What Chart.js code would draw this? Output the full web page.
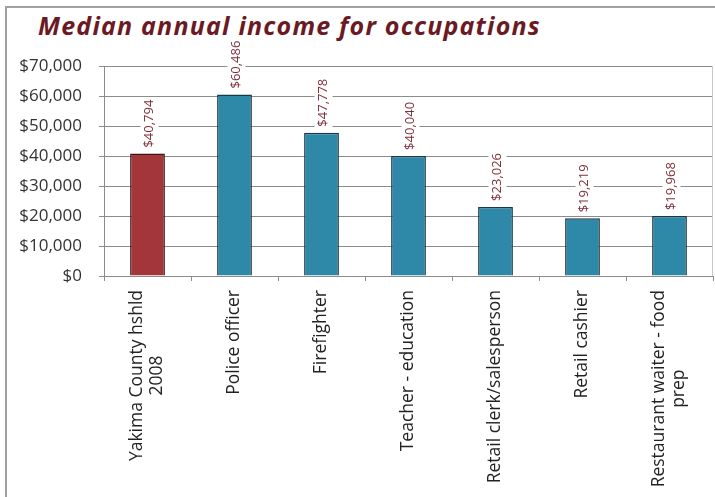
<!DOCTYPE html>
<html>
<head>
<meta charset="utf-8">
<script src="https://cdn.jsdelivr.net/npm/chart.js@4/dist/chart.umd.min.js"></script>
<style>
  html, body { margin: 0; padding: 0; background: #fff; }
  #wrap { position: relative; width: 715px; height: 497px; overflow: hidden; }
  #frame { position: absolute; left: 5px; top: 6px; width: 720px; height: 500px;
           border-left: 2px solid #a0a0a0; border-top: 2px solid #a0a0a0; }
  #title { position: absolute; left: 38px; top: 8px; margin: 0; letter-spacing: 1.2px;
           font: italic bold 25px "Open Sans", sans-serif; color: #6b1a24; white-space: nowrap; }
  canvas { position: absolute; left: 0; top: 0; }
</style>
</head>
<body>
<div id="wrap">
  <div id="frame"></div>
  <h1 id="title">Median annual income for occupations</h1>
  <canvas id="incomeChart" width="715" height="497"></canvas>
</div>
<script>
const occupations = [
  ['Yakima County hshld', '2008'],
  'Police officer',
  'Firefighter',
  'Teacher - education',
  'Retail clerk/salesperson',
  'Retail cashier',
  ['Restaurant waiter - food', 'prep']
];
const medianIncome = [40794, 60486, 47778, 40040, 23026, 19219, 19968];
const barColors = ['#a3363a', '#2e88a8', '#2e88a8', '#2e88a8', '#2e88a8', '#2e88a8', '#2e88a8'];
const barBorders = ['#3e1515', '#173a4a', '#173a4a', '#173a4a', '#173a4a', '#173a4a', '#173a4a'];
const yTicks = [0, 10000, 20000, 30000, 40000, 50000, 60000, 70000];

const money = v => '$' + v.toLocaleString('en-US');
const FONT = '"Open Sans", sans-serif';

// value labels, rotated, on a white box that cuts the gridlines
const valueLabels = {
  id: 'valueLabels',
  afterDatasetsDraw(chart) {
    const ctx = chart.ctx;
    const meta = chart.getDatasetMeta(0);
    ctx.save();
    ctx.font = '13px ' + FONT;
    meta.data.forEach((bar, i) => {
      const txt = money(medianIncome[i]);
      const w = ctx.measureText(txt).width;
      ctx.save();
      ctx.translate(bar.x + 2, bar.y - 6);
      ctx.rotate(-Math.PI / 2);
      ctx.fillStyle = '#fff';
      ctx.fillRect(-1, -9, w + 3, 18);
      ctx.fillStyle = '#7d2f3a';
      ctx.textAlign = 'left';
      ctx.textBaseline = 'middle';
      ctx.fillText(txt, 0, 0);
      ctx.restore();
    });
    ctx.restore();
  }
};

// category names, rotated, lines centred on each other
const categoryLabels = {
  id: 'categoryLabels',
  afterDraw(chart) {
    const ctx = chart.ctx;
    const xs = chart.scales.x;
    const top = chart.chartArea.bottom + 14;
    const lh = 20;
    ctx.save();
    ctx.font = '17.5px ' + FONT;
    ctx.fillStyle = '#222';
    ctx.textAlign = 'center';
    ctx.textBaseline = 'middle';
    occupations.forEach((lab, i) => {
      const lines = Array.isArray(lab) ? lab : [lab];
      const w = Math.max(...lines.map(l => ctx.measureText(l).width));
      ctx.save();
      ctx.translate(xs.getPixelForValue(i), top);
      ctx.rotate(-Math.PI / 2);
      lines.forEach((l, k) => {
        ctx.fillText(l, -w / 2, (k - (lines.length - 1) / 2) * lh);
      });
      ctx.restore();
    });
    // right edge of the plot
    const a = chart.chartArea;
    ctx.strokeStyle = '#c8c8c8';
    ctx.lineWidth = 1;
    ctx.beginPath();
    ctx.moveTo(a.right - 0.5, a.top);
    ctx.lineTo(a.right - 0.5, a.bottom);
    ctx.stroke();
    ctx.restore();
  }
};

new Chart(document.getElementById('incomeChart'), {
  type: 'bar',
  data: {
    labels: occupations,
    datasets: [{
      data: medianIncome,
      backgroundColor: barColors,
      borderColor: barBorders,
      borderWidth: 1.5,
      barPercentage: 0.4,
      categoryPercentage: 1
    }]
  },
  options: {
    responsive: false,
    animation: false,
    layout: { padding: { top: 66, right: 2, left: 0, bottom: 0 } },
    plugins: { legend: { display: false }, tooltip: { enabled: false } },
    scales: {
      x: {
        afterFit(scale) { scale.height = 497 - 276; },
        grid: { drawOnChartArea: false, drawTicks: true, tickLength: 5, color: '#8c8c8c', offset: true },
        border: { color: '#8c8c8c' },
        ticks: { display: false }
      },
      y: {
        min: 0,
        max: 70000,
        afterFit(scale) { scale.width = 104; },
        afterBuildTicks(scale) { scale.ticks = yTicks.map(v => ({ value: v })); },
        grid: { color: '#8c8c8c', tickLength: 5 },
        border: { color: '#8c8c8c' },
        ticks: {
          callback: v => money(v),
          color: '#333',
          font: { family: FONT, size: 17 },
          padding: 17
        }
      }
    }
  },
  plugins: [valueLabels, categoryLabels]
});
</script>
</body>
</html>
